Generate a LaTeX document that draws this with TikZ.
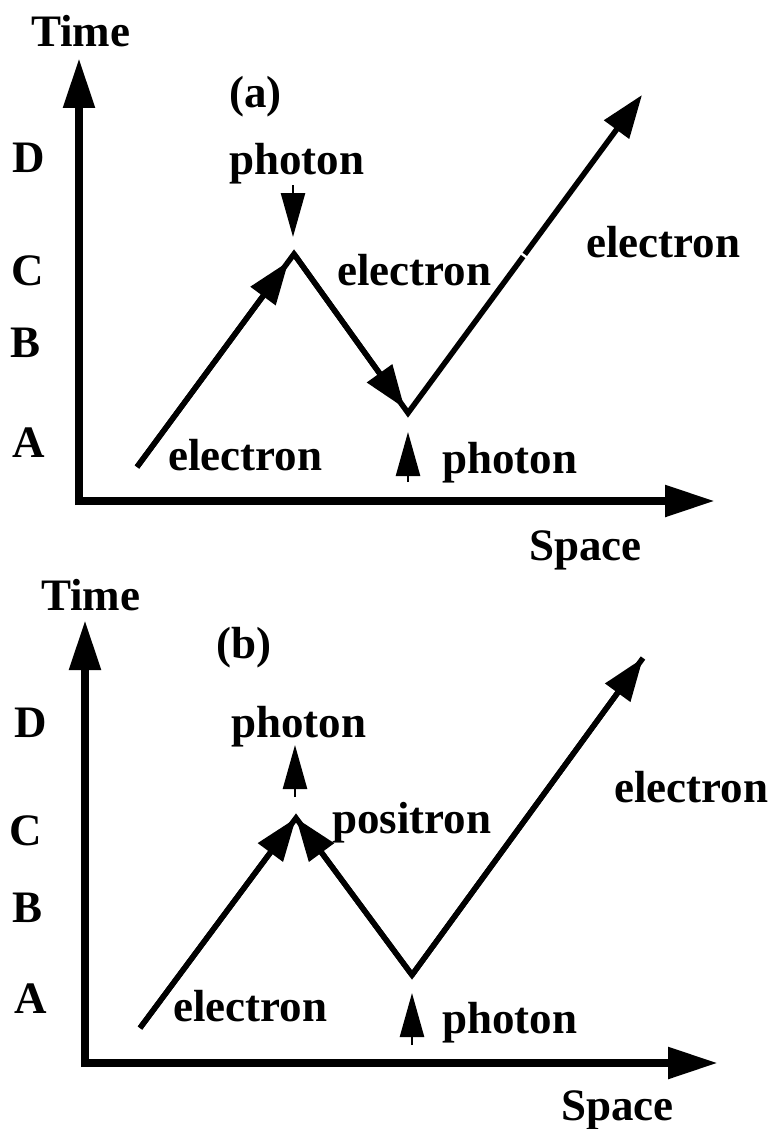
\documentclass[tikz,border=0pt]{standalone}
\usepackage{fontspec}
\setmainfont{Liberation Serif}
\usetikzlibrary{arrows.meta,calc}
\newcommand\lbfont{\bfseries\fontsize{45}{49}\selectfont}
\begin{document}
\begin{tikzpicture}[x=1pt,y=-1pt,
  lbl/.style={inner sep=0pt, anchor=base west, font=\lbfont},
  axisline/.style={line width=8.5pt, -{Triangle[length=50pt,width=30pt]}},
  elec/.style={line width=5.5pt},
  elecarrow/.style={line width=5.5pt, -{Triangle[length=43pt,width=30pt]}},
  phot/.style={line width=2.5pt, -{Triangle[length=44pt,width=24pt]}}]
\useasboundingbox (0,0) rectangle (774,1129);

% ================= panel (a) =================
\coordinate (aO1) at (79,505);
\coordinate (aY) at (79,58);
\coordinate (aO2) at (75,501);
\coordinate (aX) at (715,501);
\draw[axisline] (aO1) -- (aY);
\draw[axisline] (aO2) -- (aX);

\node[lbl] (aTime) at (31,47) {Time};
\node[lbl] (aLab) at (229,108) {(a)};
\node[lbl] (aD) at (12,172) {D};
\node[lbl] (aC) at (11,285) {C};
\node[lbl] (aB) at (10,357) {B};
\node[lbl] (aA) at (12,457) {A};
\node[lbl] (aSpace) at (529,560) {Space};
\node[lbl] (aPh1) at (229,174) {photon};
\node[lbl] (aPh2) at (442,473) {photon};
\node[lbl] (aE1) at (168,470) {electron};
\node[lbl] (aE2) at (337,285) {electron};
\node[lbl] (aE3) at (586,257) {electron};

\coordinate (a0) at (137,467);
\coordinate (aV1) at (294,254);
\coordinate (aV2) at (408,413);
\coordinate (aT) at (642,95);
\draw[elec] (a0) -- (aV1) -- (aV2) -- ($(aV2)!0.492!(aT)$);
\draw[elecarrow] (a0) -- ($(a0)!0.965!(aV1)$);
\draw[elecarrow] (aV1) -- ($(aV1)!0.97!(aV2)$);
\draw[elecarrow] ($(aV2)!0.499!(aT)$) -- (aT);

\coordinate (aP1s) at (293,185);
\coordinate (aP1e) at (293,237);
\coordinate (aP2s) at (408,482);
\coordinate (aP2e) at (408,432);
\draw[phot] (aP1s) -- (aP1e);
\draw[phot] (aP2s) -- (aP2e);

% ================= panel (b) =================
\coordinate (bO1) at (85,1067);
\coordinate (bY) at (85,620);
\coordinate (bO2) at (81,1063);
\coordinate (bX) at (718,1063);
\draw[axisline] (bO1) -- (bY);
\draw[axisline] (bO2) -- (bX);

\node[lbl] (bTime) at (41,610) {Time};
\node[lbl] (bLab) at (216,658) {(b)};
\node[lbl] (bD) at (14,737) {D};
\node[lbl] (bC) at (9,845) {C};
\node[lbl] (bB) at (12,922) {B};
\node[lbl] (bA) at (14,1013) {A};
\node[lbl] (bSpace) at (561,1120) {Space};
\node[lbl] (bPh1) at (231,737) {photon};
\node[lbl] (bPos) at (332,833) {positron};
\node[lbl] (bPh2) at (442,1033) {photon};
\node[lbl] (bE1) at (173,1021) {electron};
\node[lbl] (bE3) at (614,802) {electron};

\coordinate (b0) at (140,1028);
\coordinate (bV1) at (296,818);
\coordinate (bV2) at (412,975);
\coordinate (bT) at (643,658);
\draw[elec] (b0) -- (bV1) -- (bV2) -- (bT);
\draw[elecarrow] (b0) -- (bV1);
\draw[elecarrow] (bV2) -- (bV1);
\draw[elecarrow] (bV2) -- (bT);

\coordinate (bP1s) at (295,797);
\coordinate (bP1e) at (295,745);
\coordinate (bP2s) at (412,1045);
\coordinate (bP2e) at (412,993);
\draw[phot] (bP1s) -- (bP1e);
\draw[phot] (bP2s) -- (bP2e);
\end{tikzpicture}
\end{document}
